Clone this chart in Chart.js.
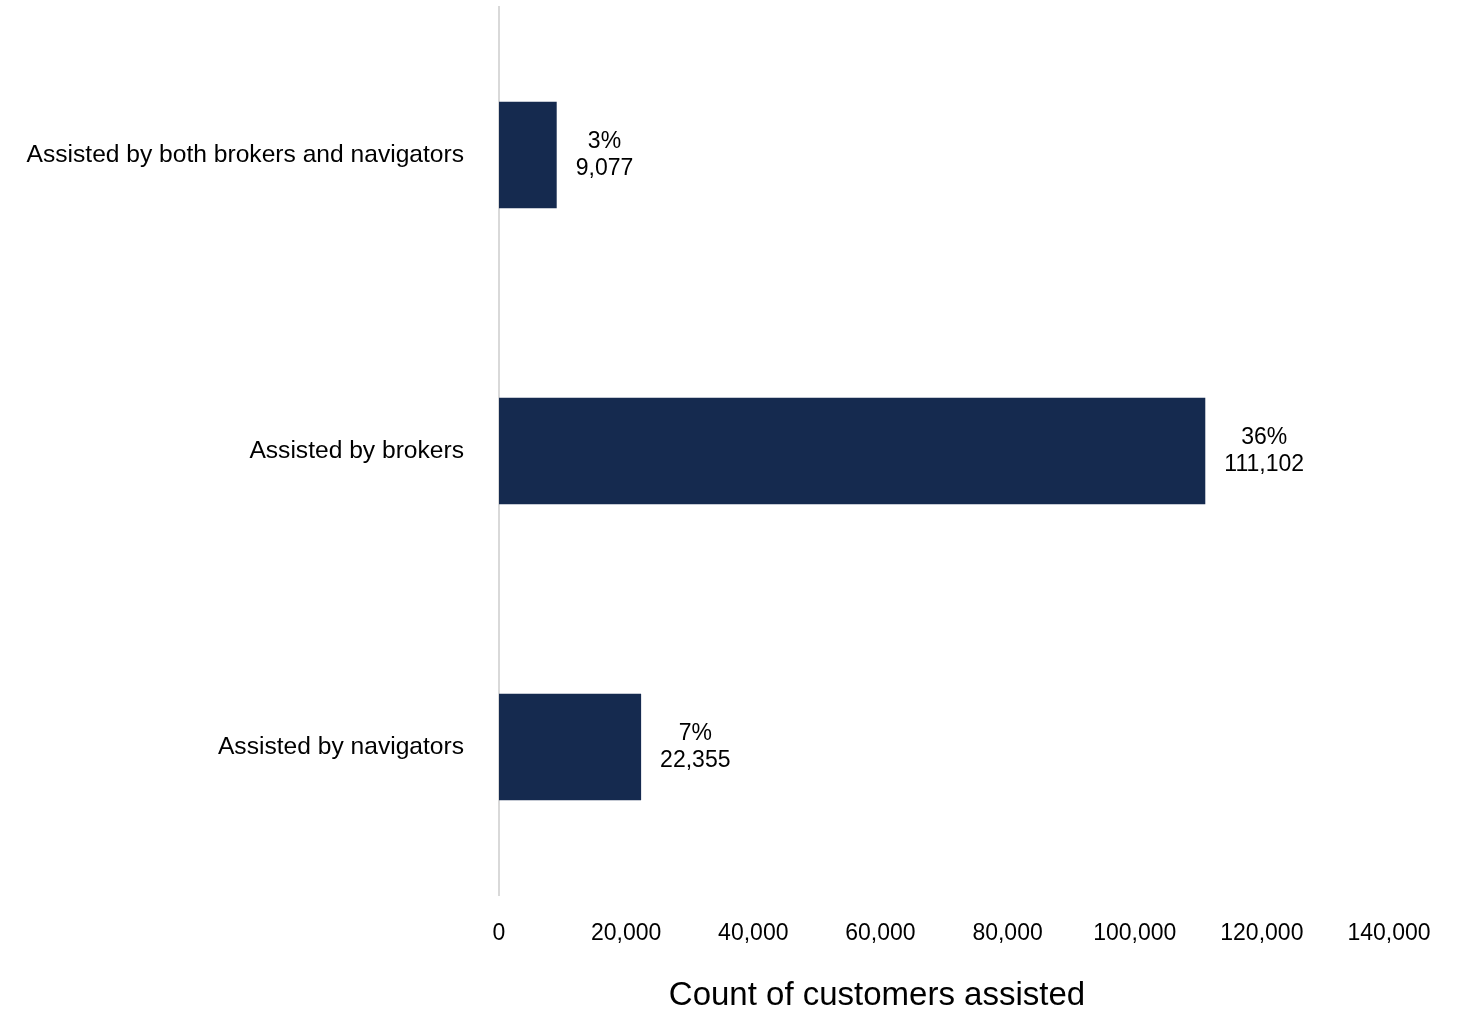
<!DOCTYPE html>
<html>
<head>
<meta charset="utf-8">
<script src="https://cdn.jsdelivr.net/npm/chart.js@4.4.1/dist/chart.umd.min.js"></script>
<style>
  html, body { margin: 0; padding: 0; background: #fff; }
  canvas { display: block; }
</style>
</head>
<body>
<canvas id="mainChart" width="1463" height="1011"></canvas>
<script>
const categories = [
  "Assisted by both brokers and navigators",
  "Assisted by brokers",
  "Assisted by navigators"
];
const counts = [9077, 111102, 22355];
const shares = ["3%", "36%", "7%"];
const xTicks = [0, 20000, 40000, 60000, 80000, 100000, 120000, 140000];
const xTitle = "Count of customers assisted";

const FONT = '"Liberation Sans", Arial, sans-serif';
const BAR_COLOR = "#152A4F";

// two-line label (share + count) to the right of each bar, plus the axis title
const barLabels = {
  id: "barLabels",
  afterDatasetsDraw(chart) {
    const ctx = chart.ctx;
    const meta = chart.getDatasetMeta(0);
    ctx.save();
    ctx.font = "23px " + FONT;
    ctx.fillStyle = "#000";
    ctx.textAlign = "center";
    ctx.textBaseline = "middle";
    meta.data.forEach((bar, i) => {
      const lines = [shares[i], counts[i].toLocaleString("en-US")];
      const w = Math.max(...lines.map(l => ctx.measureText(l).width));
      const cx = bar.x + 19 + w / 2;
      ctx.fillText(lines[0], cx, bar.y - 13.5);
      ctx.fillText(lines[1], cx, bar.y + 13.5);
    });

    // title sits a bit left of the plot centre in the original
    ctx.font = "33px " + FONT;
    ctx.fillText(xTitle, 877, 996);
    ctx.restore();
  }
};

new Chart(document.getElementById("mainChart"), {
  type: "bar",
  data: {
    labels: categories,
    datasets: [{
      data: counts,
      backgroundColor: BAR_COLOR,
      borderWidth: 0,
      categoryPercentage: 0.8,
      barPercentage: 0.45
    }]
  },
  options: {
    indexAxis: "y",
    responsive: false,
    animation: false,
    devicePixelRatio: 1,
    layout: { padding: { top: 7, right: 74, bottom: 0, left: 0 } },
    plugins: {
      legend: { display: false },
      tooltip: { enabled: false }
    },
    scales: {
      x: {
        min: 0,
        max: 140000,
        afterBuildTicks: axis => { axis.ticks = xTicks.map(v => ({ value: v })); },
        afterFit: axis => { axis.height = 116; },
        grid: { display: false, drawTicks: false },
        border: { display: false },
        ticks: {
          padding: 25,
          color: "#000",
          font: { family: FONT, size: 23 },
          maxRotation: 0,
          callback: v => v.toLocaleString("en-US")
        }
      },
      y: {
        afterFit: axis => {
          axis.width = 499;
          axis.paddingTop = 0;
          axis.paddingBottom = 0;
        },
        grid: { display: false, drawTicks: false },
        border: { display: true, color: "#D9D9D9", width: 2 },
        ticks: {
          padding: 35,
          color: "#000",
          font: { family: FONT, size: 24.6 }
        }
      }
    }
  },
  plugins: [barLabels]
});
</script>
</body>
</html>
